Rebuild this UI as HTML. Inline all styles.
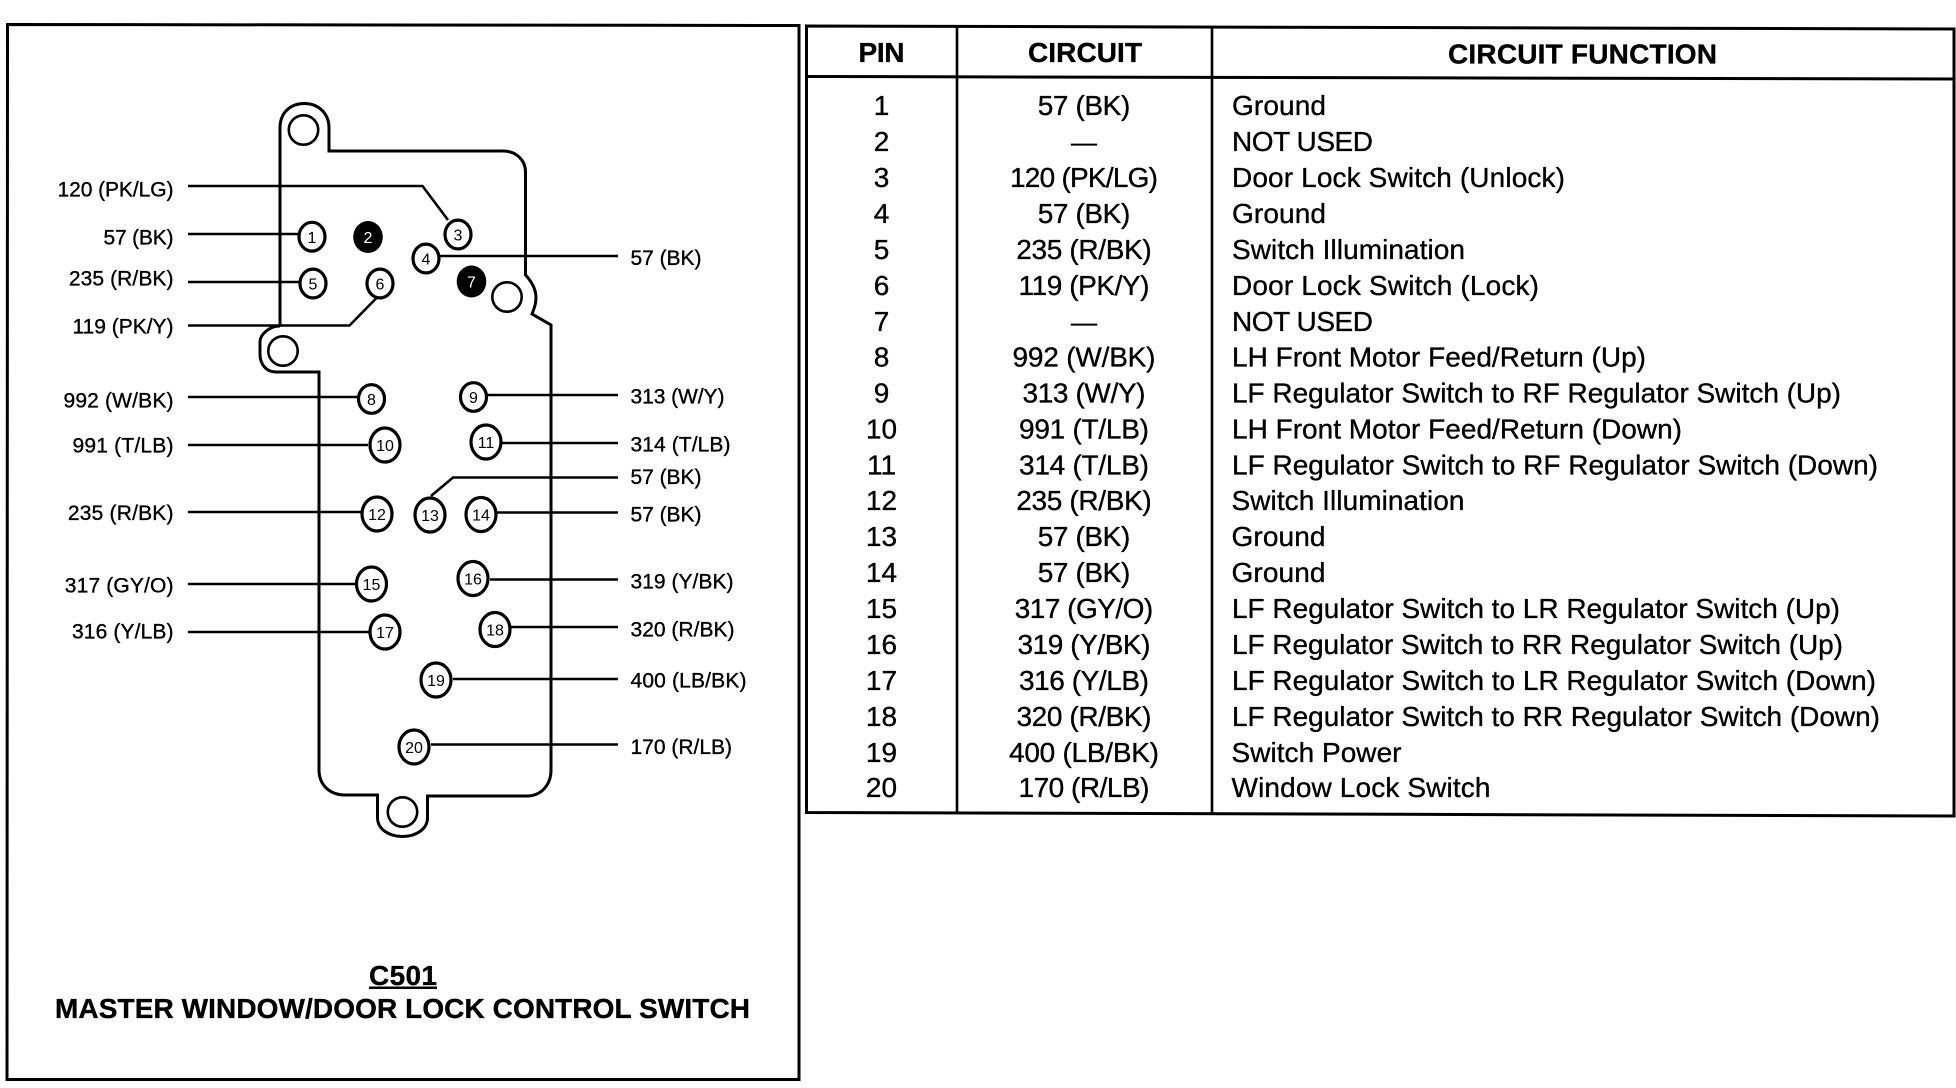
<!DOCTYPE html>
<html><head><meta charset="utf-8"><title>C501 Master Window/Door Lock Control Switch</title>
<style>
html,body{margin:0;padding:0;background:#fff;width:1956px;height:1088px;overflow:hidden}
svg{display:block}
text{font-family:"Liberation Sans",sans-serif;fill:#000;stroke:#000;stroke-width:.35}
.l{font-size:21px;text-anchor:end}
.r{font-size:21px}
.p{font-size:16px;text-anchor:middle;stroke-width:0}
.t{font-size:28px}
.c{font-size:28px;text-anchor:middle}
.h{font-size:28px;font-weight:bold;text-anchor:middle}
.ln{fill:none;stroke:#000;stroke-width:2.6}
.ol{fill:none;stroke:#000;stroke-width:3}
.pin{fill:#fff;stroke:#000;stroke-width:3.2}
</style></head><body>
<svg xmlns="http://www.w3.org/2000/svg" width="1956" height="1088" viewBox="0 0 1956 1088">
<rect width="1956" height="1088" fill="#fff"/>
<!-- left frame -->
<path d="M7.5 24.5 L799 25.5 L799 1079.5 L7 1079.5 Z" fill="none" stroke="#000" stroke-width="3"/>
<!-- connector outline -->
<path class="ol" d="M280 326 L280 128 C280 112 291 103.5 304.500 103.500 C318 103.500 329 113 329 128 L329 151 L503 151 C516 151 525.500 160 525.500 172 L525.500 275 C533 283 536 290 536 298 C536 304 534 309 532 314 L551 325 L551 770 C551 785 541 796 527 796 L427.500 796 L427.500 818 C427.500 829 416 836.500 402.500 836.500 C389 836.500 377.500 829 377.500 818 L377.500 795 L345 795 C330 795 319 785 319 770 L319 372 L276 372 C266 372 260 364 260 354 L260 342 C260 334 270 326 280 326"/>
<circle class="ln" cx="303.500" cy="130" r="14.700"/>
<circle class="ln" cx="507" cy="297" r="14.700"/>
<circle class="ln" cx="283" cy="351" r="14.700"/>
<circle class="ln" cx="402.500" cy="812" r="14.700"/>
<!-- leaders -->
<g class="ln">
<path d="M188 186 H422.500 L448 220"/>
<path d="M188 234 H298"/>
<path d="M188 282 H299"/>
<path d="M188 325.500 H349.500 L376.500 298"/>
<path d="M440 256 H618"/>
<path d="M188 397 H357"/>
<path d="M487 395 H618"/>
<path d="M188 445 H368"/>
<path d="M502.500 443 H618"/>
<path d="M431 496 L453 477.500 H618"/>
<path d="M188 512 H361"/>
<path d="M497.500 512.500 H618"/>
<path d="M188 584 H355"/>
<path d="M490 579.500 H618"/>
<path d="M188 632 H369"/>
<path d="M511 627 H618"/>
<path d="M453 679 H618"/>
<path d="M431 744.500 H618"/>
</g>
<!-- pins -->
<ellipse class="pin" cx="312" cy="236.700" rx="13" ry="14.400"/><text class="p" x="312" y="243">1</text>
<ellipse cx="368" cy="237" rx="14.800" ry="16" fill="#000"/><text class="p" x="368" y="243" style="fill:#fff">2</text>
<ellipse class="pin" cx="458" cy="234.500" rx="13" ry="14.400"/><text class="p" x="458" y="240.500">3</text>
<ellipse class="pin" cx="426" cy="258.500" rx="13" ry="14.400"/><text class="p" x="426" y="264.500">4</text>
<ellipse class="pin" cx="313" cy="283.500" rx="13" ry="14.400"/><text class="p" x="313" y="289.500">5</text>
<ellipse class="pin" cx="380" cy="283.500" rx="13" ry="14.400"/><text class="p" x="380" y="289.500">6</text>
<ellipse cx="471.500" cy="281.500" rx="14.800" ry="16" fill="#000"/><text class="p" x="471.500" y="287.500" style="fill:#fff">7</text>
<ellipse class="pin" cx="371.500" cy="399" rx="13" ry="14.300"/><text class="p" x="371.500" y="405">8</text>
<ellipse class="pin" cx="473.500" cy="397" rx="13" ry="14.300"/><text class="p" x="473.500" y="403">9</text>
<ellipse class="pin" cx="385" cy="445" rx="15" ry="17"/><text class="p" x="385" y="451">10</text>
<ellipse class="pin" cx="486" cy="442" rx="15" ry="17"/><text class="p" x="486" y="448">11</text>
<ellipse class="pin" cx="377" cy="514" rx="15" ry="17"/><text class="p" x="377" y="520">12</text>
<ellipse class="pin" cx="430" cy="515" rx="15" ry="17"/><text class="p" x="430" y="521">13</text>
<ellipse class="pin" cx="481" cy="514.500" rx="15" ry="17"/><text class="p" x="481" y="520.500">14</text>
<ellipse class="pin" cx="371.500" cy="584" rx="15" ry="17"/><text class="p" x="371.500" y="590">15</text>
<ellipse class="pin" cx="473" cy="578.500" rx="15" ry="17"/><text class="p" x="473" y="584.500">16</text>
<ellipse class="pin" cx="385" cy="632" rx="15" ry="17"/><text class="p" x="385" y="638">17</text>
<ellipse class="pin" cx="495" cy="629.500" rx="15" ry="17"/><text class="p" x="495" y="635.500">18</text>
<ellipse class="pin" cx="436" cy="680" rx="15" ry="17"/><text class="p" x="436" y="686">19</text>
<ellipse class="pin" cx="414" cy="747" rx="15" ry="17"/><text class="p" x="414" y="753">20</text>
<!-- left labels -->
<text class="l" x="173.500" y="196.500" textLength="116">120 (PK/LG)</text>
<text class="l" x="173.500" y="244.500" textLength="70">57 (BK)</text>
<text class="l" x="173.500" y="285.500" textLength="104.600">235 (R/BK)</text>
<text class="l" x="173.500" y="333.500" textLength="101">119 (PK/Y)</text>
<text class="l" x="173.500" y="407.500" textLength="110">992 (W/BK)</text>
<text class="l" x="173.500" y="452.500" textLength="101">991 (T/LB)</text>
<text class="l" x="173.500" y="520" textLength="105.600">235 (R/BK)</text>
<text class="l" x="173.500" y="592.500" textLength="108.700">317 (GY/O)</text>
<text class="l" x="173.500" y="638.500" textLength="101.500">316 (Y/LB)</text>
<!-- right labels -->
<text class="r" x="630.500" y="265" textLength="71">57 (BK)</text>
<text class="r" x="630.500" y="403.500" textLength="94">313 (W/Y)</text>
<text class="r" x="630.500" y="451.500" textLength="100">314 (T/LB)</text>
<text class="r" x="630.500" y="484" textLength="71">57 (BK)</text>
<text class="r" x="630.500" y="521.500" textLength="71">57 (BK)</text>
<text class="r" x="630.500" y="588.500" textLength="103">319 (Y/BK)</text>
<text class="r" x="630.500" y="636.500" textLength="104">320 (R/BK)</text>
<text class="r" x="630.500" y="687.500" textLength="116">400 (LB/BK)</text>
<text class="r" x="630.500" y="754" textLength="101.500">170 (R/LB)</text>
<!-- title -->
<text x="403" y="985" font-size="28" font-weight="bold" text-anchor="middle" textLength="68">C501</text>
<rect x="369" y="986.500" width="68" height="2.500" fill="#000"/>
<text x="402.500" y="1018" font-size="28" font-weight="bold" text-anchor="middle" textLength="695">MASTER WINDOW/DOOR LOCK CONTROL SWITCH</text>
<!-- table frame -->
<path d="M806.500 26 L1954 29 L1954 816 L806.500 812.500 Z" fill="none" stroke="#000" stroke-width="3"/>
<path d="M806.500 76.500 L1954 79" fill="none" stroke="#000" stroke-width="3"/>
<path d="M957 27 V813 M1212 27 V814" fill="none" stroke="#000" stroke-width="2.600"/>
<text class="h" x="881.500" y="62" textLength="46">PIN</text>
<text class="h" x="1085" y="62" textLength="114">CIRCUIT</text>
<text class="h" x="1582.500" y="63.500" textLength="269">CIRCUIT FUNCTION</text>
<!-- pin column -->
<text class="c" x="881.500" y="115">1</text>
<text class="c" x="881.500" y="151">2</text>
<text class="c" x="881.500" y="187">3</text>
<text class="c" x="881.500" y="223">4</text>
<text class="c" x="881.500" y="259">5</text>
<text class="c" x="881.500" y="295">6</text>
<text class="c" x="881.500" y="331">7</text>
<text class="c" x="881.500" y="366.500">8</text>
<text class="c" x="881.500" y="402.500">9</text>
<text class="c" x="881.500" y="438.500">10</text>
<text class="c" x="881.500" y="474.500">11</text>
<text class="c" x="881.500" y="510">12</text>
<text class="c" x="881.500" y="546">13</text>
<text class="c" x="881.500" y="582">14</text>
<text class="c" x="881.500" y="618">15</text>
<text class="c" x="881.500" y="654">16</text>
<text class="c" x="881.500" y="690">17</text>
<text class="c" x="881.500" y="726">18</text>
<text class="c" x="881.500" y="762">19</text>
<text class="c" x="881.500" y="797">20</text>
<!-- circuit column -->
<text class="c" x="1084" y="115" textLength="92.600">57 (BK)</text>
<text class="c" x="1084" y="151" style="font-size:26px">—</text>
<text class="c" x="1084" y="187" textLength="148">120 (PK/LG)</text>
<text class="c" x="1084" y="223" textLength="92.600">57 (BK)</text>
<text class="c" x="1084" y="259" textLength="135.500">235 (R/BK)</text>
<text class="c" x="1084" y="295" textLength="131">119 (PK/Y)</text>
<text class="c" x="1084" y="331" style="font-size:26px">—</text>
<text class="c" x="1084" y="366.500" textLength="143">992 (W/BK)</text>
<text class="c" x="1084" y="402.500" textLength="123">313 (W/Y)</text>
<text class="c" x="1084" y="438.500" textLength="130">991 (T/LB)</text>
<text class="c" x="1084" y="474.500" textLength="130">314 (T/LB)</text>
<text class="c" x="1084" y="510" textLength="135.500">235 (R/BK)</text>
<text class="c" x="1084" y="546" textLength="92.600">57 (BK)</text>
<text class="c" x="1084" y="582" textLength="92.600">57 (BK)</text>
<text class="c" x="1084" y="618" textLength="138.500">317 (GY/O)</text>
<text class="c" x="1084" y="654" textLength="133">319 (Y/BK)</text>
<text class="c" x="1084" y="690" textLength="130">316 (Y/LB)</text>
<text class="c" x="1084" y="726" textLength="135">320 (R/BK)</text>
<text class="c" x="1084" y="762" textLength="150">400 (LB/BK)</text>
<text class="c" x="1084" y="797" textLength="131">170 (R/LB)</text>
<!-- function column -->
<text class="t" x="1232" y="115" textLength="94">Ground</text>
<text class="t" x="1232" y="151" textLength="141">NOT USED</text>
<text class="t" x="1232" y="187" textLength="333">Door Lock Switch (Unlock)</text>
<text class="t" x="1232" y="223" textLength="94">Ground</text>
<text class="t" x="1232" y="259" textLength="233">Switch Illumination</text>
<text class="t" x="1232" y="295" textLength="307">Door Lock Switch (Lock)</text>
<text class="t" x="1232" y="331" textLength="141">NOT USED</text>
<text class="t" x="1232" y="366.500" textLength="414">LH Front Motor Feed/Return (Up)</text>
<text class="t" x="1232" y="402.500" textLength="609">LF Regulator Switch to RF Regulator Switch (Up)</text>
<text class="t" x="1232" y="438.500" textLength="450">LH Front Motor Feed/Return (Down)</text>
<text class="t" x="1232" y="474.500" textLength="646">LF Regulator Switch to RF Regulator Switch (Down)</text>
<text class="t" x="1231.500" y="510" textLength="233">Switch Illumination</text>
<text class="t" x="1231.500" y="546" textLength="94">Ground</text>
<text class="t" x="1231.500" y="582" textLength="94">Ground</text>
<text class="t" x="1232" y="618" textLength="608">LF Regulator Switch to LR Regulator Switch (Up)</text>
<text class="t" x="1232" y="654" textLength="611">LF Regulator Switch to RR Regulator Switch (Up)</text>
<text class="t" x="1232" y="690" textLength="644">LF Regulator Switch to LR Regulator Switch (Down)</text>
<text class="t" x="1232" y="726" textLength="648">LF Regulator Switch to RR Regulator Switch (Down)</text>
<text class="t" x="1231.500" y="762" textLength="170">Switch Power</text>
<text class="t" x="1231.500" y="797" textLength="259">Window Lock Switch</text>
</svg>
</body></html>
